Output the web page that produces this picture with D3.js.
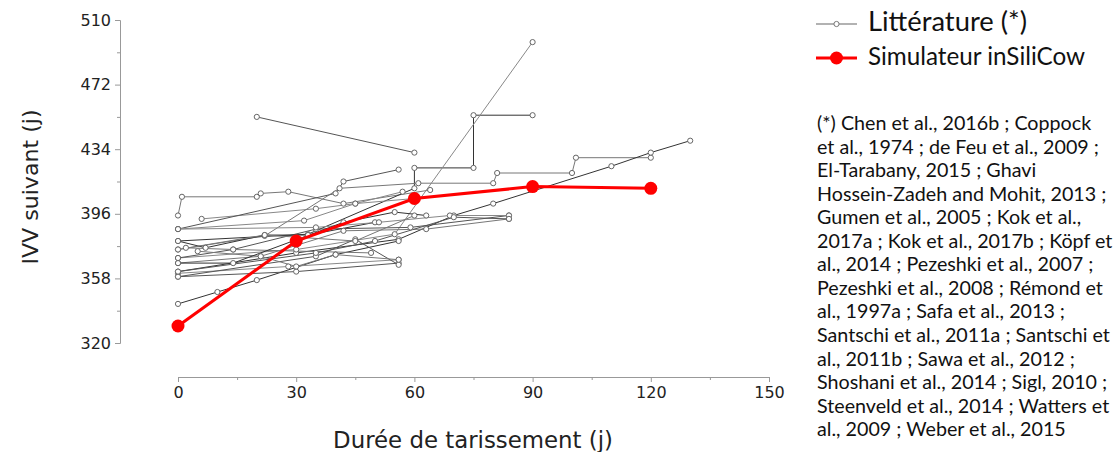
<!DOCTYPE html>
<html><head><meta charset="utf-8">
<script src="https://cdn.jsdelivr.net/npm/d3@7"></script>
<style>
html,body{margin:0;padding:0;background:#fff;}
svg{display:block;}
</style></head>
<body>
<svg id="chart" width="1118" height="452"></svg>
<script>
// ---- data ----
const xTicks = [0, 30, 60, 90, 120, 150];
const xMinorTicks = [15, 45, 75, 105, 135];
const yTicks = [320, 358, 396, 434, 472, 510];
const yMinorTicks = [339, 377, 415, 453, 491];

const simDays = [0, 30, 60, 90, 120];
const simIVV  = [330, 380, 405, 412, 411];

const lit01 = [[20,453],[60,432]];
const lit02 = [[0,395],[1,406],[20,406],[21,408],[28,409],[42,402],[64,410]];
const lit03 = [[0,380],[33,384],[60,411],[60,423],[75,423],[75,454],[90,454]];
const lit04 = [[6,393],[35,399],[45,402],[57,409]];
const lit05 = [[0,387],[40,408],[42,415],[56,422]];
const lit06 = [[0,375],[22,383],[41,411],[61,414],[80,414],[81,420],[100,420],[101,429],[120,429]];
const lit07 = [[0,362],[30,373],[56,381],[70,395],[80,402],[110,424],[120,432],[130,439]];
const lit08 = [[0,370],[30,375],[55,384],[90,497]];
const lit09 = [[0,370],[14,375],[35,387],[59,388],[84,395]];
const lit10 = [[0,367],[21,371],[42,386],[63,387],[84,393]];
const lit11 = [[0,343],[10,350],[20,357],[40,372],[56,380]];
const lit12 = [[0,361],[28,365],[56,369]];
const lit13 = [[0,359],[30,362],[56,367]];
const lit14 = [[2,376],[14,375],[49,373]];
const lit15 = [[0,380],[7,376],[22,383.5],[33,383.5],[50,391]];
const lit16 = [[0,387],[35,388],[51,391],[69,395],[84,395]];
const lit17 = [[0,359],[35,371],[45,381],[56,366]];
const lit18 = [[5,374],[21,371],[30,365],[40,372],[56,369]];
const lit19 = [[0,367],[14,367],[42,391],[55,397],[63,395]];
const lit20 = [[0,387],[32,392],[45,402],[60,405]];
const lit21 = [[0,362],[35,373],[50,380],[70,394],[84,393]];
const lit22 = [[0,375],[22,383.5],[45,380],[60,395]];
const litSeries = [lit01,lit02,lit03,lit04,lit05,lit06,lit07,lit08,lit09,lit10,lit11,
                   lit12,lit13,lit14,lit15,lit16,lit17,lit18,lit19,lit20,lit21,lit22];

const legendLabels = ["Littérature (*)", "Simulateur inSiliCow"];
const xTitle = "Durée de tarissement (j)";
const yTitle = "IVV suivant (j)";
const noteLines = [
  "(*) Chen et al., 2016b ; Coppock",
  "et al., 1974 ; de Feu et al., 2009 ;",
  "El-Tarabany, 2015 ; Ghavi",
  "Hossein-Zadeh and Mohit, 2013 ;",
  "Gumen et al., 2005 ; Kok et al.,",
  "2017a ; Kok et al., 2017b ; Köpf et",
  "al., 2014 ; Pezeshki et al., 2007 ;",
  "Pezeshki et al., 2008 ; Rémond et",
  "al., 1997a ; Safa et al., 2013 ;",
  "Santschi et al., 2011a ; Santschi et",
  "al., 2011b ; Sawa et al., 2012 ;",
  "Shoshani et al., 2014 ; Sigl, 2010 ;",
  "Steenveld et al., 2014 ; Watters et",
  "al., 2009 ; Weber et al., 2015"
];

// ---- drawing ----
const svg = d3.select("#chart");
const x = d3.scaleLinear().domain([0, 150]).range([178, 769]);
const y = d3.scaleLinear().domain([320, 510]).range([343, 20]);
const axisFont = "DejaVu Sans, sans-serif";
const textFont = "Lato, 'Open Sans', sans-serif";

function fitText(sel, width) {
  const node = sel.node();
  const fs = parseFloat(sel.attr("font-size"));
  const w = node.getComputedTextLength();
  if (w > 0) sel.attr("font-size", (fs * width / w).toFixed(2));
}

// Y axis
const yAxis = svg.append("g").attr("transform", "translate(120,0)")
  .call(d3.axisLeft(y).tickValues(yTicks).tickSize(5).tickPadding(4).tickFormat(d3.format("d")));
yAxis.select(".domain").attr("stroke", "#999");
yAxis.selectAll(".tick line").attr("stroke", "#999");
yAxis.selectAll(".tick text").attr("font-family", axisFont).attr("font-size", 16).attr("fill", "#222");
const yMinor = svg.append("g").attr("transform", "translate(120,0)")
  .call(d3.axisLeft(y).tickValues(yMinorTicks).tickSize(3).tickFormat(""));
yMinor.select(".domain").remove();
yMinor.selectAll(".tick line").attr("stroke", "#999");

// X axis
const xAxis = svg.append("g").attr("transform", "translate(0,377)")
  .call(d3.axisBottom(x).tickValues(xTicks).tickSize(5).tickPadding(5).tickSizeOuter(0).tickFormat(d3.format("d")));
xAxis.select(".domain").attr("stroke", "#999");
xAxis.selectAll(".tick line").attr("stroke", "#999");
xAxis.selectAll(".tick text").attr("font-family", axisFont).attr("font-size", 16).attr("fill", "#222");
const xMinor = svg.append("g").attr("transform", "translate(0,377)")
  .call(d3.axisBottom(x).tickValues(xMinorTicks).tickSize(3).tickFormat(""));
xMinor.select(".domain").remove();
xMinor.selectAll(".tick line").attr("stroke", "#999");

// axis titles
const xt = svg.append("text").attr("x", 473).attr("y", 448).attr("text-anchor", "middle")
  .attr("font-family", axisFont).attr("font-size", 21).attr("fill", "#222").text(xTitle);
fitText(xt, 280);
const yt = svg.append("text").attr("transform", "translate(38,187) rotate(-90)").attr("text-anchor", "middle")
  .attr("font-family", axisFont).attr("font-size", 21).attr("fill", "#222").text(yTitle);
fitText(yt, 155);

// literature lines
const line = d3.line().x(d => x(d[0])).y(d => y(d[1]));
const litColors = ["#555", "#777", "#333", "#888"];
const lit = svg.append("g");
litSeries.forEach((s, i) => {
  lit.append("path").attr("d", line(s)).attr("fill", "none")
    .attr("stroke", litColors[i % litColors.length]).attr("stroke-width", 1);
});
litSeries.forEach((s, i) => {
  lit.selectAll(null).data(s).enter().append("circle")
    .attr("cx", d => x(d[0])).attr("cy", d => y(d[1])).attr("r", 2.6)
    .attr("fill", "#fff").attr("stroke", "#666").attr("stroke-width", 1);
});

// simulator
const sim = simDays.map((d, i) => [d, simIVV[i]]);
svg.append("path").attr("d", line(sim)).attr("fill", "none").attr("stroke", "#ff0000").attr("stroke-width", 3);
svg.selectAll(".simpt").data(sim).enter().append("circle").attr("class", "simpt")
  .attr("cx", d => x(d[0])).attr("cy", d => y(d[1])).attr("r", 6.5).attr("fill", "#ff0000");

// legend
const lg = svg.append("g");
lg.append("line").attr("x1", 816).attr("x2", 857).attr("y1", 24).attr("y2", 24).attr("stroke", "#999").attr("stroke-width", 1.5);
lg.append("circle").attr("cx", 836.5).attr("cy", 24).attr("r", 2.6).attr("fill", "#fff").attr("stroke", "#777");
const l1 = lg.append("text").attr("x", 868).attr("y", 31).attr("font-family", textFont).attr("font-size", 21).attr("fill", "#111").text(legendLabels[0]);
fitText(l1, 159);
lg.append("line").attr("x1", 816).attr("x2", 857).attr("y1", 58).attr("y2", 58).attr("stroke", "#ff0000").attr("stroke-width", 3);
lg.append("circle").attr("cx", 836.5).attr("cy", 58).attr("r", 6.5).attr("fill", "#ff0000");
const l2 = lg.append("text").attr("x", 868).attr("y", 65).attr("font-family", textFont).attr("font-size", 21).attr("fill", "#111").text(legendLabels[1]);
fitText(l2, 217);

// notes
const notes = svg.append("g");
const nts = notes.selectAll("text").data(noteLines).enter().append("text")
  .attr("x", 817).attr("y", (d, i) => 130 + i * 23.55)
  .attr("font-family", textFont).attr("font-size", 16).attr("fill", "#111").text(d => d);
// uniform size fitted to the longest line
const ref = nts.filter((d, i) => i === 9);
const w = ref.node().getComputedTextLength();
nts.attr("font-size", (16 * 293 / w).toFixed(2));
</script>
</body></html>
